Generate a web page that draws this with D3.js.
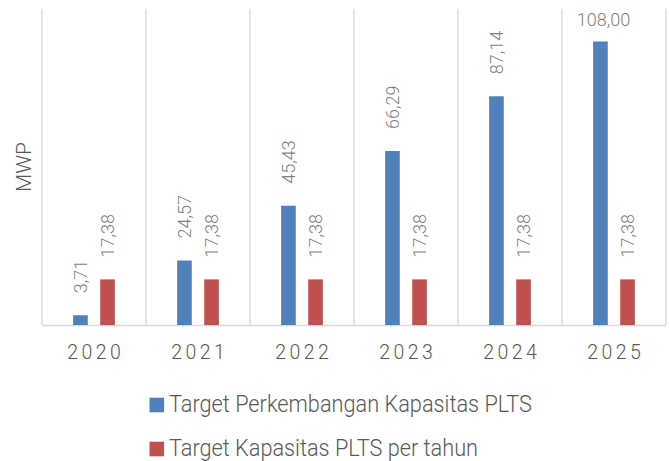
<!DOCTYPE html>
<html>
<head>
<meta charset="utf-8">
<script src="https://cdn.jsdelivr.net/npm/d3@7"></script>
<style>
  html, body { margin: 0; padding: 0; background: #fff; }
  svg { display: block; }
</style>
</head>
<body>
<svg id="chart" width="669" height="461"></svg>
<script>
const categories = ["2020", "2021", "2022", "2023", "2024", "2025"];
const seriesNames = ["Target Perkembangan Kapasitas PLTS", "Target Kapasitas PLTS per tahun"];
const perkembangan = [3.71, 24.57, 45.43, 66.29, 87.14, 108.00];
const perTahun = [17.38, 17.38, 17.38, 17.38, 17.38, 17.38];
const yAxisTitle = "MWP";
const colors = ["#4F81BD", "#C0504D"];

const svg = d3.select("#chart");
const plot = { left: 42, right: 666, top: 10, bottom: 325 };

const x0 = d3.scaleBand().domain(categories).range([plot.left, plot.right]).padding(0);
const x1 = d3.scaleBand().domain([0, 1]).range([0, x0.bandwidth()]).paddingInner(0.46).paddingOuter(1.15);
const y = d3.scaleLinear().domain([0, 120]).range([plot.bottom, plot.top]);

const fmt = v => v.toFixed(2).replace(".", ",");
const textColor = "#595959";
const gridColor = "#D9D9D9";

// vertical gridlines at category boundaries
const bounds = categories.map(c => x0(c)).concat([plot.right]);
svg.append("g").selectAll("line").data(bounds).join("line")
  .attr("x1", d => d).attr("x2", d => d)
  .attr("y1", plot.top - 1).attr("y2", plot.bottom)
  .attr("stroke", gridColor).attr("stroke-width", 1.3);

// x axis
const xAxis = d3.axisBottom(x0).tickSize(0).tickPadding(0);
const gx = svg.append("g").attr("transform", `translate(0,${plot.bottom})`).call(xAxis);
gx.select(".domain").attr("stroke", gridColor).attr("stroke-width", 1.5);
gx.selectAll("text")
  .attr("y", 34).attr("dy", 0)
  .attr("fill", textColor)
  .style("font-family", "Roboto, 'Open Sans', sans-serif")
  .style("font-weight", 300)
  .style("font-size", "19.5px")
  .style("letter-spacing", "3.4px")
  .attr("dx", "1.7px");

// data
const data = categories.map((c, i) => ({ cat: c, vals: [perkembangan[i], perTahun[i]] }));

const groups = svg.append("g").selectAll("g").data(data).join("g")
  .attr("transform", d => `translate(${x0(d.cat)},0)`);

groups.selectAll("rect").data(d => d.vals.map((v, k) => ({ v, k }))).join("rect")
  .attr("x", d => x1(d.k))
  .attr("width", x1.bandwidth())
  .attr("y", d => y(d.v))
  .attr("height", d => y(0) - y(d.v))
  .attr("fill", d => colors[d.k]);

// labels
groups.each(function(d) {
  const g = d3.select(this);
  d.vals.forEach((v, k) => {
    const cx = x1(k) + x1.bandwidth() / 2;
    const top = y(v);
    const t = g.append("text")
      .text(fmt(v))
      .attr("fill", "#7F7F7F")
      .style("font-family", "Roboto, sans-serif")
      .style("font-weight", 300)
      .style("font-size", "18px");
    if (top - 22 - 60 < 0) {
      t.attr("x", cx + 3).attr("y", top - 16).attr("text-anchor", "middle");
    } else {
      t.attr("transform", `translate(${cx},${top - 22}) rotate(-90)`)
        .attr("text-anchor", "start").attr("dy", "0.35em");
    }
  });
});

// y axis title
svg.append("text")
  .text(yAxisTitle)
  .attr("transform", `translate(23.5,167) rotate(-90)`)
  .attr("text-anchor", "middle").attr("dy", "0.35em")
  .attr("fill", textColor)
  .style("font-family", "Roboto, sans-serif")
  .style("font-weight", 300)
  .style("font-size", "21px");

// legend
const legendRows = [
  { name: seriesNames[0], color: colors[0], y: 405, len: 363 },
  { name: seriesNames[1], color: colors[1], y: 449, len: 309 }
];
const lg = svg.append("g").selectAll("g").data(legendRows).join("g");
lg.append("rect")
  .attr("x", 149.5).attr("y", d => d.y - 7.3)
  .attr("width", 14.6).attr("height", 14.6)
  .attr("fill", d => d.color);
lg.append("text")
  .text(d => d.name)
  .attr("x", 169).attr("y", d => d.y + 7)
  .attr("textLength", d => d.len)
  .attr("lengthAdjust", "spacingAndGlyphs")
  .attr("fill", textColor)
  .style("font-family", "Roboto, sans-serif")
  .style("font-weight", 300)
  .style("font-size", "24px");
</script>
</body>
</html>
